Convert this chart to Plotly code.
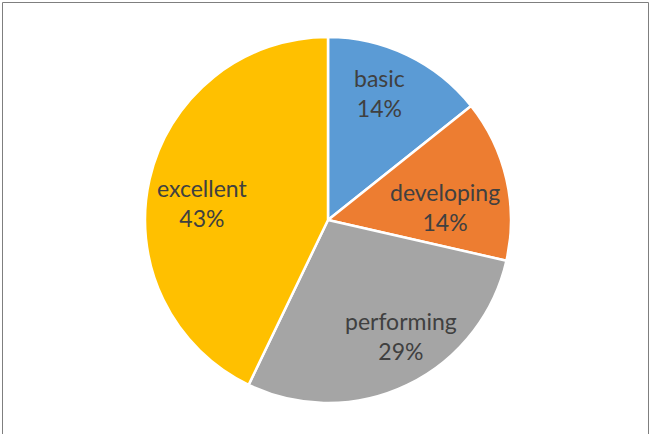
import math
import plotly.graph_objects as go

categories = ["basic", "developing", "performing", "excellent"]
values = [1, 1, 2, 3]
colors = ["#5B9BD5", "#ED7D31", "#A5A5A5", "#FFC000"]

# label placement inside each slice (radius fraction, angular nudge in degrees)
label_radius = [0.75, 0.645, 0.75, 0.69]
label_nudge = [-3.7, 6.6, -6.3, -4.9]

W, H = 650, 434
CX, CY, R = 328, 220, 183

fig = go.Figure(go.Pie(
    labels=categories,
    values=values,
    sort=False,
    direction="clockwise",
    rotation=0,
    marker=dict(colors=colors, line=dict(color="white", width=2.5)),
    textinfo="none",
    hoverinfo="label+percent",
    showlegend=False,
    domain=dict(x=[(CX - R) / W, (CX + R) / W], y=[(H - CY - R) / H, (H - CY + R) / H]),
))

total = sum(values)
annotations = []
cum = 0
for lab, v, rf, nd in zip(categories, values, label_radius, label_nudge):
    mid = (cum + v / 2) / total * 360 + nd
    cum += v
    px = CX + rf * R * math.sin(math.radians(mid))
    py = CY - rf * R * math.cos(math.radians(mid))
    annotations.append(dict(
        x=px / W, y=1 - py / H, xref="paper", yref="paper",
        text=f"{lab}<br>{round(v / total * 100)}%", showarrow=False,
        xanchor="center", yanchor="middle", align="center",
        font=dict(family="Lato", size=23, color="#404040"),
    ))

fig.update_layout(
    width=W, height=H,
    margin=dict(l=0, r=0, t=0, b=0),
    paper_bgcolor="white",
    annotations=annotations,
    shapes=[dict(type="rect", xref="paper", yref="paper", x0=2.5 / W, x1=648.5 / W,
                 y0=-0.01, y1=1 - 2.5 / H, line=dict(color="#7F7F7F", width=1))],
)
fig.write_html("out.html", config={"displayModeBar": False},
               post_script="document.body.style.margin='0';")
